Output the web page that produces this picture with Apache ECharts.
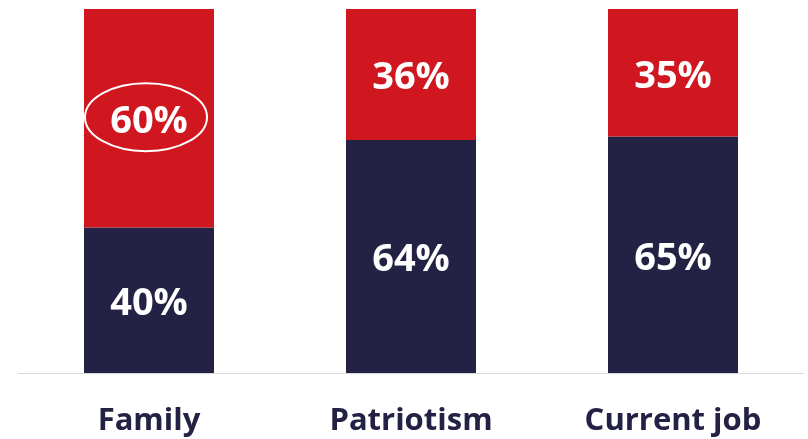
<!DOCTYPE html>
<html>
<head>
<meta charset="utf-8">
<script src="https://cdn.jsdelivr.net/npm/echarts@6/dist/echarts.min.js"></script>
<style>
  html, body { margin: 0; padding: 0; background: #ffffff; }
  #chart { width: 808px; height: 439px; }
</style>
</head>
<body>
<div id="chart"></div>
<script>
// Share of respondents per topic
const categories = ['Family', 'Patriotism', 'Current job'];
const bottomShare = [40, 64, 65];   // navy segment
const topShare = [60, 36, 35];      // red segment
const highlightIndex = 0;           // circled value in the red series

const NAVY = '#232244';
const RED = '#D0161F';
const FONT = '"Open Sans", "Noto Sans", sans-serif';

const chart = echarts.init(document.getElementById('chart'), null, { renderer: 'canvas' });

const valueLabel = {
  show: true,
  position: 'inside',
  offset: [0, 4],
  color: '#ffffff',
  fontFamily: FONT,
  fontWeight: 'bold',
  fontSize: 38,
  formatter: p => p.value + '%'
};

chart.setOption({
  animation: false,
  grid: { left: 18, right: 4, top: 9, bottom: 66, containLabel: false },
  xAxis: {
    type: 'category',
    data: categories,
    axisLine: { lineStyle: { color: '#d9d9d9', width: 1 } },
    axisTick: { show: false },
    axisLabel: {
      color: NAVY,
      fontFamily: FONT,
      fontWeight: 'bold',
      fontSize: 31,
      margin: 33
    }
  },
  yAxis: {
    type: 'value',
    min: 0,
    max: 100,
    show: false,
    splitLine: { show: false }
  },
  series: [
    {
      type: 'bar',
      stack: 'share',
      data: bottomShare,
      barWidth: 130,
      itemStyle: { color: NAVY },
      label: valueLabel
    },
    {
      type: 'bar',
      stack: 'share',
      data: topShare,
      barWidth: 130,
      itemStyle: { color: RED },
      label: valueLabel
    }
  ]
});

// Outline ring around the highlighted value label
const mid = bottomShare[highlightIndex] + topShare[highlightIndex] / 2;
const [cx, cy] = chart.convertToPixel({ gridIndex: 0 }, [highlightIndex, mid]);
chart.setOption({
  graphic: [{
    type: 'ellipse',
    shape: { cx: cx - 3, cy: cy - 1, rx: 61, ry: 34 },
    style: { fill: 'none', stroke: '#ffffff', lineWidth: 2 },
    z: 100
  }]
});
</script>
</body>
</html>
